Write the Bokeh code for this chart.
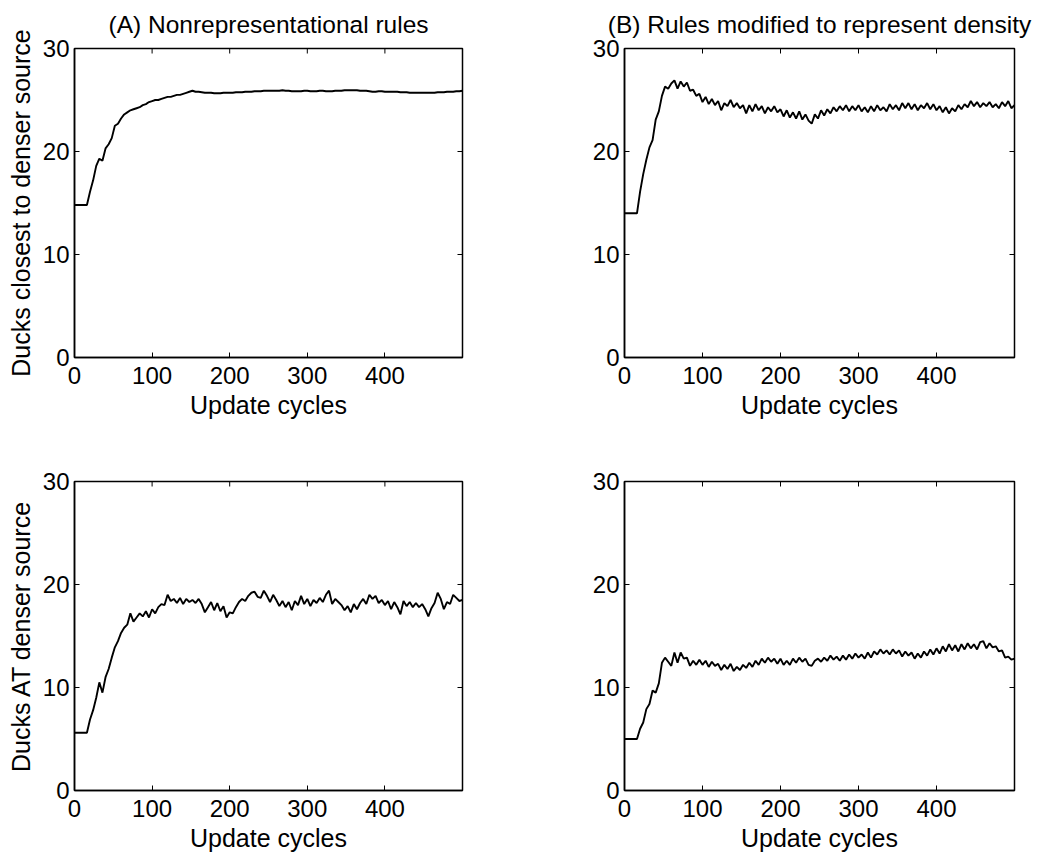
import math
from bokeh.plotting import figure
from bokeh.models import Range1d, FixedTicker
from bokeh.layouts import column, row
from bokeh.embed import file_html
from bokeh.resources import INLINE

FONT = "Liberation Sans"

# x values: update cycles, sampled every 4 cycles
cycles = list(range(0, 501, 4))

x_ticks = [0, 100, 200, 300, 400]
y_ticks = [0, 10, 20, 30]
x_max = 500
y_max = 30

titles = ["(A) Nonrepresentational rules", "(B) Rules modified to represent density"]
y_labels = ["Ducks closest to denser source", "Ducks AT denser source"]
x_label = "Update cycles"

# (A) Nonrepresentational rules: ducks closest to denser source
closest_nonrep = [
    14.8, 14.8, 14.8, 14.8, 14.8, 16.1, 17.2, 18.6, 19.3, 19.1,
    20.3, 20.7, 21.3, 22.5, 22.7, 23.2, 23.6, 23.8, 24.0, 24.1,
    24.2, 24.3, 24.5, 24.6, 24.8, 24.9, 25.0, 25.0, 25.1, 25.2,
    25.3, 25.3, 25.4, 25.5, 25.5, 25.6, 25.7, 25.8, 25.9, 25.8,
    25.8, 25.75, 25.7, 25.7, 25.7, 25.65, 25.65, 25.65, 25.7, 25.7,
    25.7, 25.7, 25.75, 25.75, 25.75, 25.8, 25.8, 25.8, 25.85, 25.85,
    25.85, 25.9, 25.9, 25.9, 25.9, 25.9, 25.9, 25.95, 25.9, 25.9,
    25.85, 25.85, 25.85, 25.85, 25.9, 25.9, 25.85, 25.85, 25.85, 25.9,
    25.9, 25.85, 25.85, 25.85, 25.9, 25.9, 25.9, 25.95, 25.95, 25.95,
    25.95, 25.95, 25.9, 25.9, 25.9, 25.85, 25.8, 25.8, 25.85, 25.85,
    25.8, 25.8, 25.8, 25.8, 25.8, 25.75, 25.75, 25.75, 25.7, 25.7,
    25.7, 25.7, 25.7, 25.7, 25.7, 25.7, 25.7, 25.75, 25.75, 25.75,
    25.8, 25.8, 25.8, 25.85, 25.85, 25.9,
]

# (B) Rules modified to represent density: ducks closest to denser source
closest_density = [
    14.0, 14.0, 14.0, 14.0, 14.0, 16.1, 17.8, 19.2, 20.4, 21.1,
    23.1, 23.9, 25.4, 26.3, 26.1, 26.6, 26.9, 26.1, 26.8, 26.3,
    26.7, 25.9, 26.0, 25.4, 25.6, 24.8, 25.3, 24.6, 25.1, 24.5,
    24.9, 24.0, 24.7, 24.4, 25.0, 24.3, 24.7, 24.2, 24.5, 23.7,
    24.5, 23.9, 24.6, 24.0, 24.4, 23.7, 24.3, 23.9, 24.4, 23.8,
    24.1, 23.4, 24.0, 23.3, 23.8, 23.2, 23.9, 23.1, 23.6, 23.0,
    22.7, 23.6, 23.2, 24.0, 23.5, 24.1, 23.7, 24.3, 23.9, 24.4,
    24.0, 24.5, 23.9, 24.4, 24.0, 24.5, 23.9, 24.3, 23.8, 24.4,
    23.9, 24.5, 24.0, 24.3, 23.9, 24.6, 24.1, 24.5, 24.0, 24.7,
    24.2, 24.7, 24.1, 24.6, 24.0, 24.5, 24.2, 24.7, 24.1, 24.6,
    24.0, 24.4, 23.8, 24.3, 23.7, 24.2, 23.9, 24.5, 24.1, 24.6,
    24.3, 24.9, 24.4, 24.8, 24.3, 24.7, 24.4, 24.8, 24.3, 24.6,
    24.2, 24.8, 24.4, 24.9, 24.2, 24.5,
]

# (A) Nonrepresentational rules: ducks AT denser source
at_nonrep = [
    5.6, 5.6, 5.6, 5.6, 5.6, 6.9, 7.8, 9.0, 10.5, 9.5,
    11.0, 11.8, 12.9, 13.9, 14.5, 15.3, 15.8, 16.1, 17.2, 16.4,
    16.8, 17.2, 16.9, 17.4, 16.8, 17.6, 17.2, 17.8, 18.1, 18.0,
    19.0, 18.4, 18.6, 18.2, 18.7, 18.1, 18.6, 18.3, 18.5, 18.2,
    18.6, 18.1, 17.3, 17.8, 18.3, 17.5, 18.2, 17.4, 17.9, 16.8,
    17.3, 17.2, 17.8, 18.3, 18.6, 18.4, 18.9, 19.2, 19.3, 18.8,
    18.7, 19.4, 18.9, 18.3, 19.0, 18.5, 17.9, 18.4, 17.8, 18.3,
    17.5, 18.4, 18.0, 18.9, 18.1, 18.6, 17.9, 18.5, 18.2, 18.7,
    18.3, 19.0, 19.4, 18.1, 18.6, 18.3, 18.0, 17.5, 17.9, 17.3,
    18.1, 17.6, 18.2, 18.6, 18.1, 19.0, 18.6, 18.9, 18.2, 18.5,
    18.0, 18.4, 17.6, 18.3, 17.8, 17.1, 18.4, 17.9, 18.3, 17.8,
    18.2, 17.8, 18.1, 17.6, 16.9, 17.7, 18.2, 19.2, 18.6, 17.6,
    18.3, 18.1, 19.0, 18.7, 18.4, 18.5,
]

# (B) Rules modified to represent density: ducks AT denser source
at_density = [
    5.0, 5.0, 5.0, 5.0, 5.0, 6.0, 6.6, 7.9, 8.4, 9.7,
    9.5, 10.4, 12.4, 12.9, 12.5, 12.1, 13.4, 12.4, 13.4, 12.8,
    12.9, 12.1, 12.6, 12.2, 12.7, 12.2, 12.6, 12.0, 12.5, 12.1,
    12.3, 11.7, 12.2, 11.8, 12.3, 11.6, 12.0, 11.7, 12.2, 11.9,
    12.4, 12.0, 12.6, 12.2, 12.8, 12.4, 12.9, 12.5, 12.8, 12.3,
    12.8, 12.2, 12.6, 12.2, 12.8, 12.4, 12.9, 12.5, 12.8, 12.2,
    12.1, 12.6, 12.8, 12.5, 12.9, 12.6, 13.1, 12.7, 13.0, 12.6,
    13.1, 12.7, 13.2, 12.8, 13.3, 12.9, 13.2, 12.8, 13.4, 12.9,
    13.5, 13.2, 13.7, 13.3, 13.6, 13.2, 13.7, 13.3, 13.6, 13.0,
    13.5, 13.1, 13.4, 12.8, 13.3, 12.9, 13.5, 13.1, 13.7, 13.2,
    13.8, 13.3, 14.0, 13.5, 14.2, 13.6, 14.1, 13.5, 14.2, 13.7,
    14.3, 13.8, 14.2, 13.7, 14.4, 14.5, 13.8, 14.3, 13.9, 14.0,
    13.5, 13.6, 12.9, 13.0, 12.7, 12.8,
]


def make_panel(values, title, ylabel, width, height, bl, br, bt, bb):
    p = figure(width=width, height=height,
               x_range=Range1d(0, x_max), y_range=Range1d(0, y_max),
               output_backend="svg", toolbar_location=None,
               title=title,
               min_border_left=bl, min_border_right=br,
               min_border_top=bt, min_border_bottom=bb,
               background_fill_color="white", border_fill_color="white")
    p.line(cycles, values, line_color="black", line_width=1.9)
    p.xgrid.visible = False
    p.ygrid.visible = False
    p.outline_line_color = "black"
    p.outline_line_width = 1.5
    p.outline_line_alpha = 1.0

    if title is not None:
        p.title.align = "center"
        p.title.vertical_align = "top"
        p.title.text_font = FONT
        p.title.text_font_size = "24.5px"
        p.title.text_font_style = "normal"
        p.title.text_color = "black"
        p.title.standoff = 18

    xa = p.xaxis[0]
    xa.ticker = FixedTicker(ticks=x_ticks)
    xa.axis_label = x_label
    ya = p.yaxis[0]
    ya.ticker = FixedTicker(ticks=y_ticks)
    ya.axis_label = ylabel
    for ax in (xa, ya):
        ax.major_tick_in = 5
        ax.major_tick_out = 0
        ax.minor_tick_in = 0
        ax.minor_tick_out = 0
        ax.major_tick_line_color = "black"
        ax.axis_line_color = "black"
        ax.axis_line_width = 1.5
        ax.major_label_text_font = FONT
        ax.major_label_text_font_size = "24px"
        ax.major_label_text_color = "black"
        ax.axis_label_text_font = FONT
        ax.axis_label_text_font_size = "25px"
        ax.axis_label_text_font_style = "normal"
        ax.axis_label_text_color = "black"
    xa.major_label_standoff = 9
    xa.axis_label_standoff = 4
    ya.major_label_standoff = 5
    ya.axis_label_standoff = 5

    # inward tick marks on the top and right edges of the box
    p.ray(x=x_ticks, y=[y_max] * len(x_ticks), length=5, angle=-math.pi / 2,
          length_units="screen", line_color="black", line_width=1)
    p.ray(x=[x_max] * len(y_ticks), y=y_ticks, length=5, angle=math.pi,
          length_units="screen", line_color="black", line_width=1)
    return p


pA = make_panel(closest_nonrep, titles[0], y_labels[0], 520, 430, 74, 58, 48, 72)
pB = make_panel(closest_density, titles[1], None, 521, 430, 104, 27, 47, 73)
pC = make_panel(at_nonrep, None, y_labels[1], 520, 425, 74, 58, 51, 65)
pD = make_panel(at_density, None, None, 521, 425, 104, 27, 51, 65)

layout = column(row(pA, pB), row(pC, pD))
open("out.html", "w").write(file_html(layout, INLINE))
